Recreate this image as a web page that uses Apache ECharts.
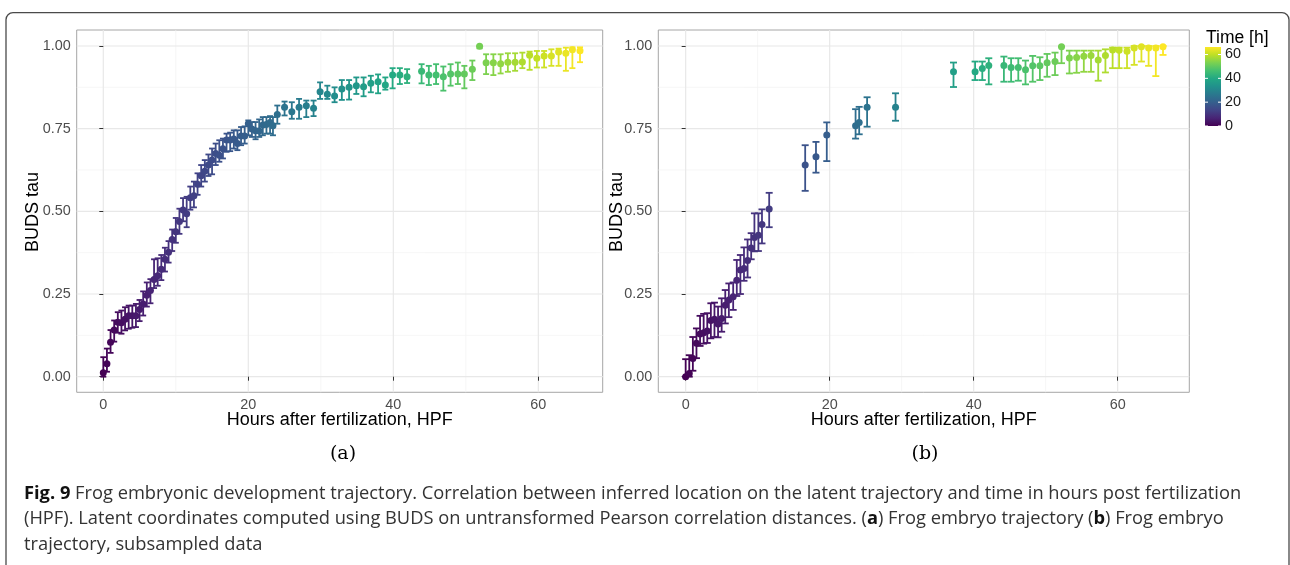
<!DOCTYPE html>
<html><head><meta charset="utf-8">
<script src="https://cdn.jsdelivr.net/npm/echarts@6/dist/echarts.min.js"></script>
<style>html,body{margin:0;padding:0;background:#fff}#c{width:1290px;height:565px}</style>
</head><body><div id="c"></div>
<script>
// ---------- data: panel (a) full trajectory ----------
const timeA = [0,0.5,1,1.5,2,2.5,3,3.5,4,4.5,5,5.5,6,6.5,7,7.5,8,8.5,9,9.5,10,10.5,11,11.5,12,12.5,13,13.5,14,14.5,15,15.5,16,16.5,17,17.5,18,18.5,19,19.5,20,20.5,21,21.5,22,22.5,23,23.4,24,25,26,27,28,29,29.9,30.9,31.9,32.9,33.9,34.9,35.9,36.9,37.9,38.9,39.9,40.9,41.9,43.9,44.9,45.9,46.9,47.9,48.9,49.8,50.9,51.9,52.8,53.8,54.8,55.8,56.8,57.8,58.8,59.8,60.8,61.8,62.8,63.8,64.7,65.75];
const tauA = [0.012,0.039,0.104,0.141,0.165,0.163,0.174,0.184,0.184,0.184,0.203,0.220,0.246,0.261,0.294,0.305,0.325,0.355,0.376,0.415,0.438,0.469,0.504,0.493,0.541,0.547,0.582,0.608,0.621,0.640,0.655,0.675,0.670,0.689,0.716,0.716,0.719,0.705,0.728,0.728,0.765,0.749,0.744,0.743,0.761,0.763,0.769,0.759,0.793,0.815,0.801,0.815,0.819,0.812,0.862,0.854,0.849,0.870,0.875,0.880,0.877,0.887,0.892,0.882,0.912,0.912,0.907,0.924,0.912,0.912,0.907,0.915,0.915,0.915,0.930,0.999,0.949,0.949,0.946,0.951,0.951,0.952,0.972,0.963,0.970,0.970,0.982,0.978,0.989,0.986];
const lowA = [0.000,0.015,0.072,0.106,0.133,0.130,0.140,0.145,0.148,0.150,0.168,0.185,0.212,0.222,0.268,0.275,0.292,0.318,0.345,0.380,0.405,0.432,0.470,0.452,0.505,0.512,0.550,0.575,0.590,0.607,0.612,0.640,0.650,0.660,0.680,0.682,0.690,0.685,0.700,0.705,0.730,0.725,0.718,0.725,0.730,0.735,0.735,0.730,0.765,0.790,0.780,0.780,0.785,0.788,0.840,0.840,0.830,0.837,0.838,0.855,0.848,0.860,0.857,0.868,0.872,0.885,0.888,0.887,0.882,0.885,0.865,0.880,0.885,0.872,0.897,0.993,0.915,0.912,0.917,0.922,0.925,0.933,0.928,0.935,0.935,0.940,0.940,0.925,0.933,0.951];
const highA = [0.059,0.085,0.141,0.170,0.195,0.200,0.210,0.215,0.215,0.220,0.232,0.258,0.285,0.295,0.355,0.358,0.368,0.390,0.410,0.445,0.480,0.508,0.540,0.544,0.575,0.590,0.615,0.640,0.655,0.672,0.690,0.705,0.715,0.720,0.735,0.738,0.745,0.745,0.755,0.757,0.775,0.770,0.770,0.778,0.785,0.785,0.788,0.785,0.820,0.832,0.830,0.840,0.835,0.835,0.890,0.880,0.875,0.897,0.897,0.905,0.905,0.910,0.914,0.905,0.933,0.933,0.930,0.945,0.940,0.945,0.938,0.945,0.950,0.940,0.956,1.000,0.975,0.975,0.975,0.978,0.978,0.980,0.983,0.985,0.985,0.990,0.992,0.995,0.996,0.996];

// ---------- data: panel (b) subsampled ----------
const timeB = [0,0.5,1,1.5,2,2.5,3,3.5,4,4.5,5,5.5,6,6.6,7.1,7.6,8.1,8.6,9.1,9.55,10.1,10.6,11.6,16.6,18.1,19.6,23.6,24.1,25.2,29.15,37.2,40.2,41.2,42.1,44.2,45.2,46.2,47.2,48.2,49.2,50.2,51.3,52.2,53.3,54.3,55.3,56.3,57.3,58.3,59.3,60.2,61.3,62.3,63.3,64.3,65.3,66.3];
const tauB = [0.000,0.010,0.055,0.101,0.129,0.133,0.138,0.170,0.174,0.159,0.176,0.216,0.232,0.242,0.292,0.323,0.327,0.351,0.389,0.421,0.428,0.460,0.507,0.640,0.665,0.731,0.759,0.769,0.815,0.815,0.922,0.922,0.932,0.941,0.941,0.935,0.935,0.928,0.940,0.940,0.949,0.953,0.998,0.964,0.965,0.969,0.971,0.958,0.971,0.988,0.987,0.984,0.994,0.998,0.994,0.994,0.998];
const lowB = [0.000,0.000,0.018,0.056,0.093,0.100,0.102,0.116,0.120,0.119,0.136,0.161,0.180,0.202,0.244,0.250,0.290,0.300,0.355,0.379,0.380,0.403,0.452,0.562,0.617,0.652,0.720,0.733,0.756,0.774,0.876,0.897,0.897,0.884,0.892,0.892,0.895,0.884,0.892,0.897,0.907,0.912,0.948,0.917,0.919,0.922,0.922,0.895,0.920,0.933,0.933,0.933,0.943,0.953,0.940,0.909,0.973];
const highB = [0.053,0.065,0.120,0.146,0.184,0.190,0.192,0.222,0.224,0.212,0.237,0.262,0.282,0.285,0.353,0.368,0.391,0.415,0.434,0.494,0.494,0.506,0.556,0.700,0.710,0.769,0.809,0.816,0.845,0.857,0.950,0.953,0.953,0.963,0.968,0.963,0.963,0.956,0.970,0.966,0.976,0.980,0.998,0.986,0.986,0.986,0.986,0.986,0.990,0.995,0.995,0.995,1.000,1.000,1.000,1.000,1.000];

// ---------- ticks ----------
const xTicks = [0, 20, 40, 60];
const xMinor = [10, 30, 50];
const yTicks = [0, 0.25, 0.5, 0.75, 1];
const yMinor = [0.125, 0.375, 0.625, 0.875];
const legendTicks = [0, 20, 40, 60];
const viridis = ['#440154','#482475','#414487','#355f8d','#2a788e','#21918c','#22a884','#44bf70','#7ad151','#bddf26','#fde725'];

function hexToRgb(h){return [parseInt(h.slice(1,3),16),parseInt(h.slice(3,5),16),parseInt(h.slice(5,7),16)];}
function viridisAt(f){
  f = Math.max(0, Math.min(1, f));
  const n = viridis.length - 1;
  const i = Math.min(n - 1, Math.floor(f * n));
  const r = f * n - i;
  const a = hexToRgb(viridis[i]), b = hexToRgb(viridis[i + 1]);
  return 'rgb(' + a.map((v, k) => Math.round(v + (b[k] - v) * r)).join(',') + ')';
}
const maxA = Math.max.apply(null, timeA);
const maxB = Math.max.apply(null, timeB);

const font = '"Liberation Sans", Arial, sans-serif';
const chart = echarts.init(document.getElementById('c'), null, {renderer: 'canvas'});

function gridData() {
  const d = [];
  xMinor.forEach(v => d.push([v, 1]));
  yMinor.forEach(v => d.push([v, 3]));
  xTicks.forEach(v => d.push([v, 0]));
  yTicks.forEach(v => d.push([v, 2]));
  return d;
}
function gridSeries(idx) {
  return {
    type: 'custom', xAxisIndex: idx, yAxisIndex: idx, silent: true, z: 0,
    data: gridData(),
    renderItem: function (params, api) {
      const v = api.value(0), kind = api.value(1);
      const cs = params.coordSys;
      let shape;
      if (kind < 2) {
        const p = api.coord([v, 0]);
        shape = {x1: p[0], y1: cs.y, x2: p[0], y2: cs.y + cs.height};
      } else {
        const p = api.coord([0, v]);
        shape = {x1: cs.x, y1: p[1], x2: cs.x + cs.width, y2: p[1]};
      }
      const major = (kind === 0 || kind === 2);
      return {type: 'line', shape: shape,
        style: {stroke: major ? '#e8e8e8' : '#f2f2f2', lineWidth: major ? 1.2 : 0.7}};
    }
  };
}
function errSeries(idx, t, lo, hi, max, cap) {
  return {
    type: 'custom', xAxisIndex: idx, yAxisIndex: idx, silent: true, z: 2,
    data: t.map((v, i) => [v, lo[i], hi[i]]),
    encode: {x: 0, y: [1, 2]},
    renderItem: function (params, api) {
      const tv = api.value(0);
      const p1 = api.coord([tv, api.value(2)]);
      const p2 = api.coord([tv, api.value(1)]);
      const c = viridisAt(tv / max);
      const st = {stroke: c, lineWidth: 1.8};
      return {type: 'group', children: [
        {type: 'line', shape: {x1: p1[0], y1: p1[1], x2: p2[0], y2: p2[1]}, style: st},
        {type: 'line', shape: {x1: p1[0] - cap, y1: p1[1], x2: p1[0] + cap, y2: p1[1]}, style: st},
        {type: 'line', shape: {x1: p2[0] - cap, y1: p2[1], x2: p2[0] + cap, y2: p2[1]}, style: st}
      ]};
    }
  };
}
function ptSeries(idx, t, tau, max) {
  return {
    type: 'scatter', xAxisIndex: idx, yAxisIndex: idx, z: 3, silent: true,
    symbolSize: 7,
    data: t.map((v, i) => [v, tau[i]]),
    itemStyle: {opacity: 1, color: p => viridisAt(p.value[0] / max)}
  };
}
function xAx(idx, min, max) {
  return {
    type: 'value', gridIndex: idx, min: min, max: max,
    axisLine: {show: false},
    axisTick: {show: true, customValues: xTicks, length: 4, lineStyle: {color: '#333', width: 1}},
    axisLabel: {customValues: xTicks, color: '#4d4d4d', fontSize: 14.4, fontFamily: font, margin: 6},
    splitLine: {show: false}
  };
}
function yAx(idx) {
  return {
    type: 'value', gridIndex: idx, min: -0.0472, max: 1.0484,
    axisLine: {show: false},
    axisTick: {show: true, customValues: yTicks, length: 4, lineStyle: {color: '#333', width: 1}},
    axisLabel: {customValues: yTicks, color: '#4d4d4d', fontSize: 14.4, fontFamily: font, margin: 6,
      formatter: v => v.toFixed(2)},
    splitLine: {show: false}
  };
}

const barTop = 47, barBot = 126, barX = 1205, barW = 16;
const legendEls = [
  {type: 'text', x: 1206, y: 38, style: {text: 'Time [h]', font: '17.5px ' + font, fill: '#000', textVerticalAlign: 'middle'}},
  {type: 'rect', shape: {x: barX, y: barTop, width: barW, height: barBot - barTop},
    style: {fill: {type: 'linear', x: 0, y: 1, x2: 0, y2: 0,
      colorStops: viridis.map((c, i) => ({offset: i / (viridis.length - 1), color: c}))}}}
];
legendTicks.forEach(v => {
  const y = barBot - v / maxB * (barBot - barTop);
  legendEls.push({type: 'line', shape: {x1: barX, y1: y, x2: barX + 3, y2: y}, style: {stroke: '#fff', lineWidth: 1}});
  legendEls.push({type: 'line', shape: {x1: barX + barW - 3, y1: y, x2: barX + barW, y2: y}, style: {stroke: '#fff', lineWidth: 1}});
  legendEls.push({type: 'text', x: barX + barW + 4, y: y, style: {text: String(v), font: '14.4px ' + font, fill: '#1a1a1a', textVerticalAlign: 'middle'}});
});

const captionFont = '"Open Sans", "Noto Sans", sans-serif';
const capSize = 18.3;
const option = {
  backgroundColor: '#fff',
  animation: false,
  grid: [
    {left: 76.7, top: 30, width: 526, height: 362.3, show: true, borderColor: '#a6a6a6', borderWidth: 1, backgroundColor: 'transparent'},
    {left: 658.3, top: 30, width: 531, height: 362.3, show: true, borderColor: '#a6a6a6', borderWidth: 1, backgroundColor: 'transparent'}
  ],
  xAxis: [xAx(0, -3.67, 68.88), xAx(1, -3.8, 69.95)],
  yAxis: [yAx(0), yAx(1)],
  series: [
    gridSeries(0), gridSeries(1),
    errSeries(0, timeA, lowA, highA, maxA, 3),
    errSeries(1, timeB, lowB, highB, maxB, 3.5),
    ptSeries(0, timeA, tauA, maxA),
    ptSeries(1, timeB, tauB, maxB)
  ],
  graphic: [
    {type: 'rect', shape: {x: 6, y: 12.7, width: 1283, height: 620, r: 7},
      style: {fill: 'none', stroke: '#4a4a4a', lineWidth: 1.3}, silent: true},
    {type: 'text', x: 33, y: 212, rotation: Math.PI / 2,
      style: {text: 'BUDS tau', font: '18px ' + font, fill: '#000', textAlign: 'center', textVerticalAlign: 'middle'}},
    {type: 'text', x: 617, y: 212, rotation: Math.PI / 2,
      style: {text: 'BUDS tau', font: '18px ' + font, fill: '#000', textAlign: 'center', textVerticalAlign: 'middle'}},
    {type: 'text', x: 339.7, y: 420,
      style: {text: 'Hours after fertilization, HPF', font: '18px ' + font, fill: '#000', textAlign: 'center', textVerticalAlign: 'middle'}},
    {type: 'text', x: 923.8, y: 420,
      style: {text: 'Hours after fertilization, HPF', font: '18px ' + font, fill: '#000', textAlign: 'center', textVerticalAlign: 'middle'}},
    {type: 'text', x: 343, y: 454,
      style: {text: '(a)', font: '19px "DejaVu Serif", "Liberation Serif", serif', fill: '#000', textAlign: 'center', textVerticalAlign: 'middle'}},
    {type: 'text', x: 925, y: 454,
      style: {text: '(b)', font: '19px "DejaVu Serif", "Liberation Serif", serif', fill: '#000', textAlign: 'center', textVerticalAlign: 'middle'}},
    {type: 'text', x: 24, y: 480.5,
      style: {
        text: '{b|Fig. 9} Frog embryonic development trajectory. Correlation between inferred location on the latent trajectory and time in hours post fertilization\n(HPF). Latent coordinates computed using BUDS on untransformed Pearson correlation distances. ({b|a}) Frog embryo trajectory ({b|b}) Frog embryo\ntrajectory, subsampled data',
        fontFamily: captionFont, fontSize: capSize, fill: '#333', lineHeight: 25.7, textVerticalAlign: 'top',
        rich: {b: {fontFamily: captionFont, fontSize: capSize, fontWeight: 'bold', fill: '#111', lineHeight: 25.7}}
      }}
  ].concat(legendEls)
};
chart.setOption(option);
</script>
</body></html>
